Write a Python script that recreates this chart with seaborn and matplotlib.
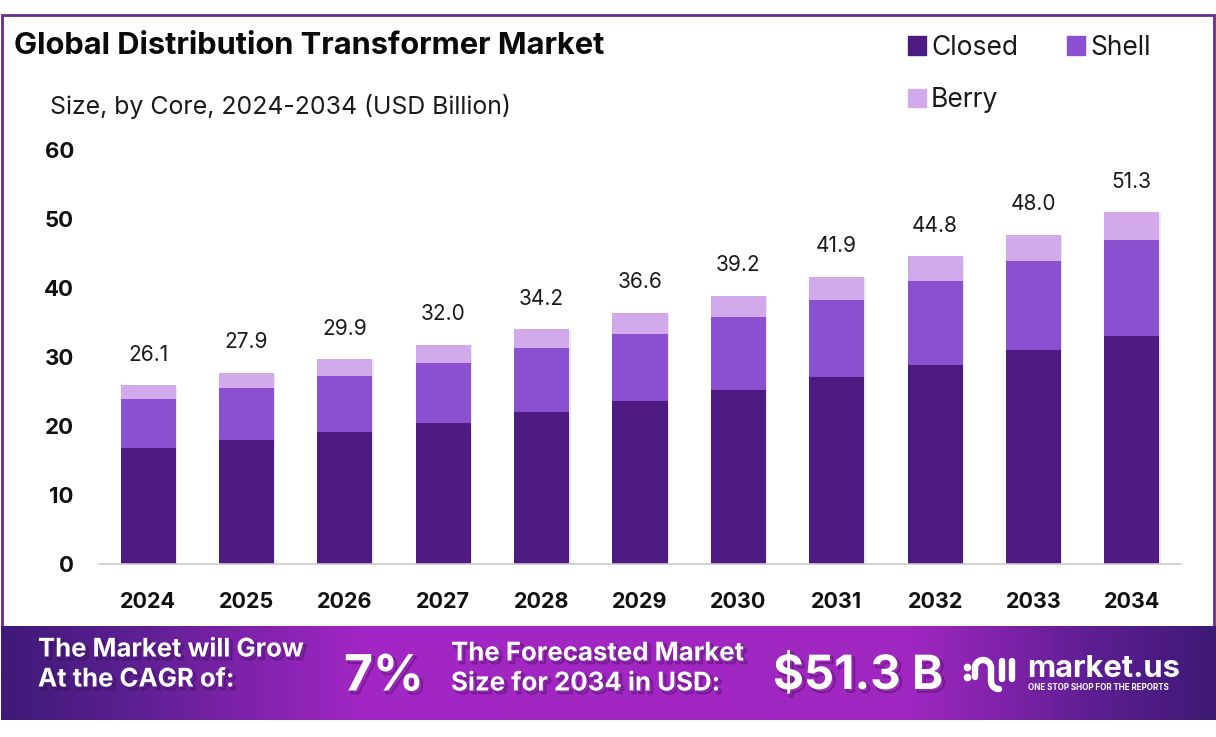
import numpy as np
import pandas as pd
import matplotlib.pyplot as plt
import matplotlib.patheffects as pe
from matplotlib.colors import LinearSegmentedColormap
from matplotlib.patches import Patch, Rectangle
import seaborn as sns

# data
years = ["2024", "2025", "2026", "2027", "2028", "2029", "2030", "2031", "2032", "2033", "2034"]
closed = [16.8, 17.9, 19.2, 20.5, 22.0, 23.6, 25.2, 27.1, 28.9, 31.0, 33.1]
shell = [7.1, 7.6, 8.1, 8.7, 9.3, 9.8, 10.6, 11.1, 12.1, 12.9, 13.8]
berry = [2.0, 2.2, 2.4, 2.6, 2.7, 3.0, 3.1, 3.4, 3.6, 3.8, 4.1]
total_labels = ["26.1", "27.9", "29.9", "32.0", "34.2", "36.6", "39.2", "41.9", "44.8", "48.0", "51.3"]
y_ticks = [0, 10, 20, 30, 40, 50, 60]

c_closed = "#4d1a82"
c_shell = "#8a50d0"
c_berry = "#d2a9ea"

sns.set_theme(style="white")
plt.rcParams["font.family"] = ["Inter", "DejaVu Sans"]

W, H = 1216, 737
fig = plt.figure(figsize=(W / 100, H / 100), dpi=100)
fig.patch.set_facecolor("white")

# overlay in pixel coords for the frame and the loose text
bg = fig.add_axes([0, 0, 1, 1], zorder=0)
bg.set_xlim(0, W)
bg.set_ylim(H, 0)
bg.axis("off")
bg.add_patch(Rectangle((2, 15), 1212, 612, fill=False, edgecolor="#6b2c91", lw=2))
bg.text(14, 46, "Global Distribution Transformer Market", fontsize=22.2, fontweight="bold",
        color="#0a0a0a", va="center")
bg.text(50, 106, "Size, by Core, 2024-2034 (USD Billion)", fontsize=17.9, color="#1a1a1a", va="center")

# stacked bars
df = pd.DataFrame({"year": years, "closed": closed, "shell": shell, "berry": berry})
df["closed_top"] = df["closed"]
df["shell_top"] = df["closed"] + df["shell"]
df["berry_top"] = df["shell_top"] + df["berry"]

ax = fig.add_axes([99 / W, 1 - 564 / H, (1181 - 99) / W, (564 - 150) / H], zorder=1)
ax.patch.set_alpha(0)
sns.barplot(data=df, x="year", y="berry_top", color=c_berry, saturation=1, width=0.56, linewidth=0, ax=ax)
sns.barplot(data=df, x="year", y="shell_top", color=c_shell, saturation=1, width=0.56, linewidth=0, ax=ax)
sns.barplot(data=df, x="year", y="closed_top", color=c_closed, saturation=1, width=0.56, linewidth=0, ax=ax)

# soft shadow behind the stacks
for bar in ax.patches[:len(years)]:
    bar.set_path_effects([pe.SimplePatchShadow(offset=(1, -1), alpha=0.13, shadow_rgbFace="#555555"), pe.Normal()])

ax.set_xlim(-0.5, 10.5)
ax.set_ylim(0, 60)
ax.set_xlabel("")
ax.set_ylabel("")
ax.set_yticks(y_ticks)
ax.tick_params(axis="y", length=0, pad=18, labelsize=16)
ax.tick_params(axis="x", length=0, pad=20, labelsize=15.5)
for lab in ax.get_xticklabels() + ax.get_yticklabels():
    lab.set_fontweight("bold")
    lab.set_color("#111111")
sns.despine(ax=ax, left=True)
ax.spines["bottom"].set_color("#c9c9c9")
ax.spines["bottom"].set_linewidth(1.2)

for i, lab in enumerate(total_labels):
    ax.annotate(lab, (i, df["berry_top"][i]), xytext=(0, 22), textcoords="offset points",
                ha="center", va="center", fontsize=15, color="#1a1a1a")

handles = [Patch(color=c_closed, label="Closed"), Patch(color=c_berry, label="Berry"),
           Patch(color=c_shell, label="Shell")]
bg.legend(handles=handles, ncol=2, loc="upper left", bbox_to_anchor=(884 / W, 1 - 11 / H),
          bbox_transform=fig.transFigure, frameon=False, fontsize=19, handlelength=0.68,
          handleheight=0.68, handletextpad=0.2, columnspacing=1.85, labelspacing=1.0,
          labelcolor="#1a1a1a")

# banner with gradient
ban = fig.add_axes([1 / W, 1 - 720 / H, (W - 1) / W, (720 - 626) / H], zorder=2)
cmap = LinearSegmentedColormap.from_list("ban", [(0, "#3f1a78"), (0.1, "#5a1f90"), (0.3, "#a326c4"),
                                                 (0.75, "#a027c0"), (0.9, "#5e1e92"), (1, "#3d1a76")])
ban.imshow(np.linspace(0, 1, 600).reshape(1, -1), aspect="auto", cmap=cmap, extent=(1, W, 720, 626))
ban.axis("off")


def banner_text(x, y, s, size, va="center", shade=True):
    t = ban.text(x, y, s, fontsize=size, color="white", fontweight="bold", ha="left", va=va)
    if shade:
        t.set_path_effects([pe.SimpleLineShadow(offset=(2, -2), shadow_color="#2a0a40", alpha=0.35, linewidth=1.5),
                            pe.Normal()])
    return t


banner_text(38, 650, "The Market will Grow", 18.5)
banner_text(38, 680, "At the CAGR of:", 18.5)
banner_text(344, 677, "7%", 36)
banner_text(451, 654, "The Forecasted Market", 18.6)
banner_text(451, 684, "Size for 2034 in USD:", 18.6)
banner_text(773, 677, "$51.3 B", 34)
banner_text(1027, 677, "market.us", 22.3, va="baseline", shade=False)
banner_text(1028, 688, "ONE STOP SHOP FOR THE REPORTS", 5.8, shade=False)

# logo glyph
logo = dict(color="white", lw=4.6, solid_capstyle="round")
t = np.linspace(np.pi, 0, 30)
ban.plot(983 + 8 * np.cos(t), 668 - 8 * np.sin(t), **logo)
ban.plot([975, 975], [668, 677], **logo)
ban.plot([991, 991], [668, 681], **logo)
t2 = np.linspace(np.pi, np.pi / 2, 15)
ban.plot(999 + 8 * np.cos(t2), 681 + 8 * np.sin(t2), **logo)
ban.plot([1002, 1002], [661, 679], **logo)
ban.plot([1012, 1012], [661, 679], **logo)
ban.plot([967], [667], marker="o", ms=4.5, color="white")
ban.plot([967], [677], marker="o", ms=4.5, color="white")
ban.set_xlim(1, W)
ban.set_ylim(720, 626)

fig.savefig("out.png", dpi=100)
